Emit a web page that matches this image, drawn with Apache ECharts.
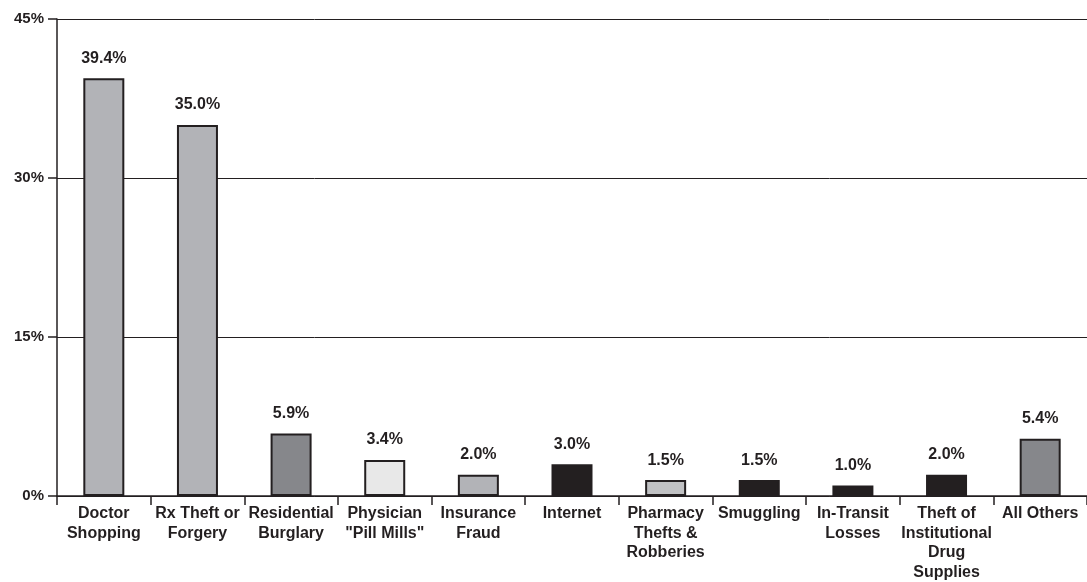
<!DOCTYPE html>
<html><head><meta charset="utf-8">
<script src="https://cdn.jsdelivr.net/npm/echarts@6/dist/echarts.min.js"></script>
<style>html,body{margin:0;padding:0;background:#fff;overflow:hidden}#c{width:1087px;height:582px}</style>
</head><body><div id="c"></div>
<script>
const categories = ["Doctor\nShopping","Rx Theft or\nForgery","Residential\nBurglary","Physician\n\"Pill Mills\"","Insurance\nFraud","Internet","Pharmacy\nThefts &\nRobberies","Smuggling","In-Transit\nLosses","Theft of\nInstitutional\nDrug\nSupplies","All Others"];
const values = [39.4, 35.0, 5.9, 3.4, 2.0, 3.0, 1.5, 1.5, 1.0, 2.0, 5.4];
const barColors = ["#b2b3b7","#b2b3b7","#86878b","#e8e8e8","#b2b3b7","#231f20","#c0c1c3","#231f20","#231f20","#231f20","#86878b"];
const yTicks = [0, 15, 30, 45];

const chart = echarts.init(document.getElementById('c'), null, {renderer:'canvas'});
const font = '"Liberation Sans", Arial, Helvetica, sans-serif';
chart.setOption({
  animation: false,
  grid: {left: 57, right: 0, top: 19, bottom: 86, containLabel: false, outerBoundsMode: 'none'},
  xAxis: {
    type: 'category', data: categories,
    axisLine: {lineStyle: {color: '#231f20', width: 1.5}},
    axisTick: {show: true, length: 9, interval: 0, lineStyle: {color: '#231f20', width: 1.5}},
    axisLabel: {interval: 0, color: '#231f20', fontFamily: font, fontWeight: 'bold', fontSize: 16, lineHeight: 19.5, margin: 8, hideOverlap: false}
  },
  yAxis: {
    type: 'value', min: 0, max: 45, interval: 15,
    axisLine: {show: true, lineStyle: {color: '#231f20', width: 1.5}},
    axisTick: {show: true, length: 9, lineStyle: {color: '#231f20', width: 1.5}},
    splitLine: {show: true, lineStyle: {color: '#231f20', width: 1}},
    axisLabel: {color: '#231f20', fontFamily: font, fontWeight: 'bold', fontSize: 15, margin: 13,
      formatter: v => yTicks.includes(v) ? v + '%' : ''}
  },
  series: [{
    type: 'bar', barWidth: 41,
    data: values.map((v, i) => ({value: v, itemStyle: {color: barColors[i]}})),
    itemStyle: {borderColor: '#231f20', borderWidth: 2},
    label: {show: true, position: 'top', distance: 12, color: '#231f20', fontFamily: font, fontWeight: 'bold', fontSize: 16,
      formatter: p => p.value.toFixed(1) + '%'}
  }]
});
</script></body></html>
